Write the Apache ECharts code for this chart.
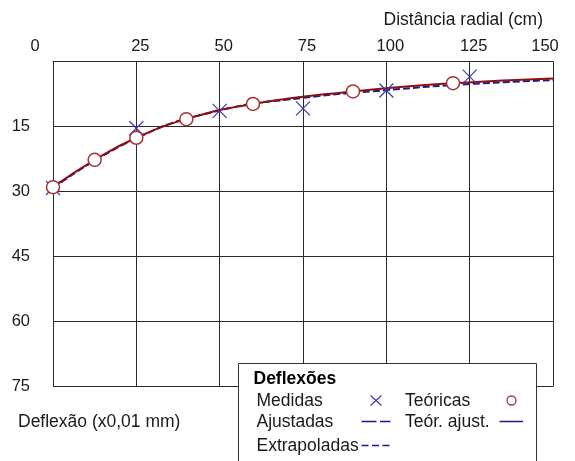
<!DOCTYPE html>
<html>
<head>
<meta charset="utf-8">
<script src="https://cdn.jsdelivr.net/npm/echarts@6/dist/echarts.min.js"></script>
<style>
  html, body { margin: 0; padding: 0; background: #ffffff; }
  #chart { width: 575px; height: 461px; }
</style>
</head>
<body>
<div id="chart"></div>
<script>
// Radial distance ticks (cm) and deflection ticks (x0,01 mm)
const distTicks = [0, 25, 50, 75, 100, 125, 150];
const deflTicks = [0, 15, 30, 45, 60, 75];

// Measured deflections (Medidas)
const medDist = [0, 25, 50, 75, 100, 125];
const medDefl = [29.2, 15.4, 11.4, 10.8, 6.7, 3.5];

// Theoretical deflections (Teóricas)
const teoDist = [0, 12.5, 25, 40, 60, 90, 120];
const teoDefl = [29.0, 22.7, 17.6, 13.3, 9.8, 6.9, 5.0];

// Fitted theoretical curve (Teór. ajust.)
const teoAjDist = [0, 12.5, 25, 40, 60, 90, 120, 150];
const teoAjDefl = [29.0, 22.7, 17.6, 13.3, 9.8, 6.9, 5.0, 3.9];

// Fitted measured curve (Ajustadas)
const ajDist = [0, 25, 50, 75, 100, 125, 150];
const ajDefl = [29.2, 17.7, 11.3, 8.4, 6.6, 5.2, 4.3];

const pairs = (xs, ys) => xs.map((x, i) => [x, ys[i]]);

const FONT = '"Liberation Sans", Arial, sans-serif';
const TXT = '#1a1a1a';
const GRID = '#2a2a2a';
const BLUE_MARK = '#3c3cb0';
const BLUE_LINE = '#1a1a8c';
const RED_LINE = '#8e1010';
const RED_MARK = '#a83232';
const FS = '17.5px ';

const chart = echarts.init(document.getElementById('chart'), null, { renderer: 'canvas' });

// Legend box position
const LX = 238.5, LY = 363.5;

chart.setOption({
  animation: false,
  backgroundColor: '#ffffff',
  textStyle: { fontFamily: FONT },
  grid: {
    left: 53, top: 61.5, right: 22, bottom: 74.5,
    containLabel: false, outerBoundsMode: 'none'
  },
  xAxis: {
    type: 'value',
    position: 'top',
    min: distTicks[0],
    max: distTicks[distTicks.length - 1],
    interval: 25,
    axisLine: { show: true, lineStyle: { color: GRID, width: 1 } },
    axisTick: { show: false },
    splitLine: { show: true, lineStyle: { color: GRID, width: 1 } },
    axisLabel: {
      margin: 7,
      color: TXT,
      fontSize: 16.5,
      fontFamily: FONT,
      formatter: function (v) {
        if (v === 0) return '{first|0}';
        if (v === 150) return '{last|150}';
        return '{mid|' + v + '}';
      },
      rich: {
        first: { fontSize: 16.5, color: TXT, fontFamily: FONT, padding: [0, 36, 0, 0] },
        mid: { fontSize: 16.5, color: TXT, fontFamily: FONT, padding: [0, 0, 0, 8] },
        last: { fontSize: 16.5, color: TXT, fontFamily: FONT, padding: [0, 16, 0, 0] }
      }
    }
  },
  yAxis: {
    type: 'value',
    inverse: true,
    min: deflTicks[0],
    max: deflTicks[deflTicks.length - 1],
    interval: 15,
    axisLine: { show: true, lineStyle: { color: GRID, width: 1 } },
    axisTick: { show: false },
    splitLine: { show: true, lineStyle: { color: GRID, width: 1 } },
    axisLabel: {
      margin: 23,
      color: TXT,
      fontSize: 16.5,
      fontFamily: FONT,
      formatter: function (v) { return v === 0 ? '' : String(v); }
    }
  },
  series: [
    {
      name: 'Ajustadas',
      type: 'line',
      smooth: true,
      symbol: 'none',
      data: pairs(ajDist, ajDefl),
      lineStyle: { color: BLUE_LINE, width: 2, type: [7, 3] },
      z: 2
    },
    {
      name: 'Teór. ajust.',
      type: 'line',
      smooth: true,
      symbol: 'none',
      data: pairs(teoAjDist, teoAjDefl),
      lineStyle: { color: RED_LINE, width: 2 },
      z: 3
    },
    {
      name: 'Medidas',
      type: 'scatter',
      symbol: 'path://M0,0L10,10M10,0L0,10',
      symbolSize: 14,
      data: pairs(medDist, medDefl),
      itemStyle: { color: 'rgba(0,0,0,0)', borderColor: BLUE_MARK, borderWidth: 1.2, opacity: 1 },
      z: 4
    },
    {
      name: 'Teóricas',
      type: 'scatter',
      symbol: 'circle',
      symbolSize: 13,
      data: pairs(teoDist, teoDefl),
      itemStyle: { color: '#ffffff', borderColor: RED_MARK, borderWidth: 1.5, opacity: 1 },
      z: 5
    }
  ],
  graphic: [
    {
      type: 'text', x: 543, y: 20, z: 10,
      style: { text: 'Distância radial (cm)', fill: TXT, font: FS + FONT, align: 'right', verticalAlign: 'middle' }
    },
    {
      type: 'text', x: 18, y: 422, z: 10,
      style: { text: 'Deflexão (x0,01 mm)', fill: TXT, font: FS + FONT, align: 'left', verticalAlign: 'middle' }
    },
    {
      type: 'group', x: LX, y: LY, z: 20,
      children: [
        { type: 'rect', shape: { x: 0, y: 0, width: 298, height: 110 },
          style: { fill: '#ffffff', stroke: '#333333', lineWidth: 1 }, z: 20 },
        { type: 'text', x: 15, y: 16, z: 21,
          style: { text: 'Deflexões', fill: '#000', font: 'bold ' + FS + FONT, verticalAlign: 'middle' } },
        { type: 'text', x: 18, y: 37.5, z: 21,
          style: { text: 'Medidas', fill: TXT, font: FS + FONT, verticalAlign: 'middle' } },
        { type: 'text', x: 18, y: 58.5, z: 21,
          style: { text: 'Ajustadas', fill: TXT, font: FS + FONT, verticalAlign: 'middle' } },
        { type: 'text', x: 18, y: 82.5, z: 21,
          style: { text: 'Extrapoladas', fill: TXT, font: FS + FONT, verticalAlign: 'middle' } },
        { type: 'text', x: 166.5, y: 37.5, z: 21,
          style: { text: 'Teóricas', fill: TXT, font: FS + FONT, verticalAlign: 'middle' } },
        { type: 'text', x: 166.5, y: 58.5, z: 21,
          style: { text: 'Teór. ajust.', fill: TXT, font: FS + FONT, verticalAlign: 'middle' } },
        // legend marks
        { type: 'polyline', z: 21, shape: { points: [[132, 32], [143, 42]] },
          style: { stroke: BLUE_MARK, lineWidth: 1.2 } },
        { type: 'polyline', z: 21, shape: { points: [[143, 32], [132, 42]] },
          style: { stroke: BLUE_MARK, lineWidth: 1.2 } },
        { type: 'circle', z: 21, shape: { cx: 273, cy: 37, r: 4.5 },
          style: { fill: '#ffffff', stroke: RED_MARK, lineWidth: 1.3 } },
        { type: 'line', z: 21, shape: { x1: 123, y1: 58, x2: 138, y2: 58 },
          style: { stroke: BLUE_LINE, lineWidth: 1.5 } },
        { type: 'line', z: 21, shape: { x1: 141.5, y1: 58, x2: 152, y2: 58 },
          style: { stroke: BLUE_LINE, lineWidth: 1.5 } },
        { type: 'line', z: 21, shape: { x1: 261, y1: 58, x2: 284.5, y2: 58 },
          style: { stroke: BLUE_LINE, lineWidth: 1.5 } },
        { type: 'line', z: 21, shape: { x1: 123, y1: 82, x2: 152, y2: 82 },
          style: { stroke: BLUE_LINE, lineWidth: 1.5, lineDash: [7, 3.5] } }
      ]
    }
  ]
});
</script>
</body>
</html>
